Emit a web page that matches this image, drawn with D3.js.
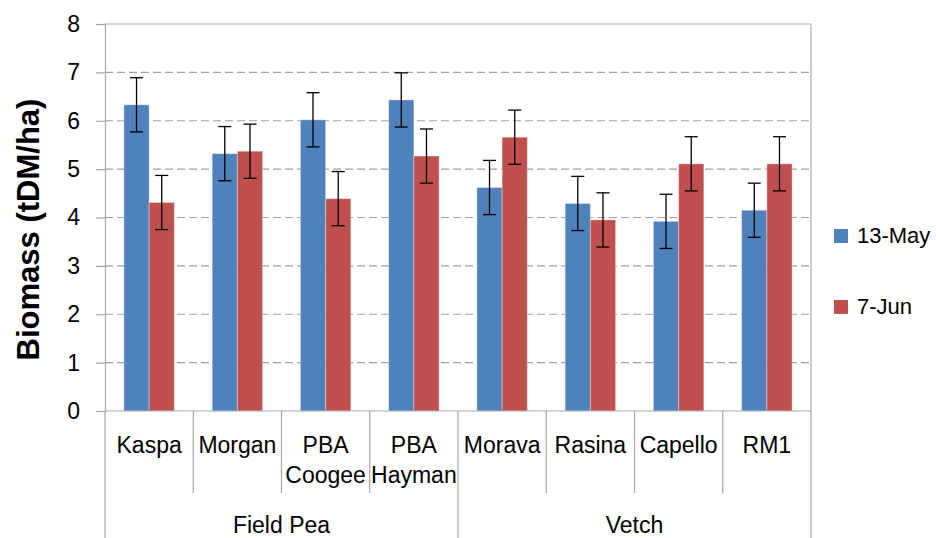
<!DOCTYPE html>
<html>
<head>
<meta charset="utf-8" />
<title>Biomass</title>
<script src="https://cdn.jsdelivr.net/npm/d3@7/dist/d3.min.js"></script>
<style>
  body { margin: 0; background: #fff; }
  text { font-family: "Liberation Sans", Arial, sans-serif; fill: #000; }
</style>
</head>
<body>
<script>
// data
var categories = ["Kaspa", "Morgan", "PBA Coogee", "PBA Hayman", "Morava", "Rasina", "Capello", "RM1"];
var groups = ["Field Pea", "Field Pea", "Field Pea", "Field Pea", "Vetch", "Vetch", "Vetch", "Vetch"];
var seriesNames = ["13-May", "7-Jun"];
var may13 = [6.33, 5.32, 6.02, 6.43, 4.62, 4.29, 3.92, 4.15];
var jun7 = [4.31, 5.37, 4.39, 5.27, 5.66, 3.95, 5.11, 5.11];
var errMay13 = [0.56, 0.56, 0.56, 0.56, 0.56, 0.56, 0.56, 0.56];
var errJun7 = [0.56, 0.56, 0.56, 0.56, 0.56, 0.56, 0.56, 0.56];
var yTicks = [0, 1, 2, 3, 4, 5, 6, 7, 8];

var width = 936, height = 538;
var plot = { left: 105, right: 811, top: 24, bottom: 411 };
var colors = ["#4F81BD", "#C0504D"];

var svg = d3.select("body").append("svg").attr("width", width).attr("height", height);

var x = d3.scaleBand().domain(categories).range([plot.left, plot.right]);
var xSub = d3.scaleBand().domain(seriesNames).range([0, x.bandwidth()]).paddingInner(0).paddingOuter(0.75);
var y = d3.scaleLinear().domain([0, 8]).range([plot.bottom, plot.top]);

// dashed gridlines
svg.append("g").selectAll("line").data(yTicks.filter(function(d){ return d > 0 && d < 8; }))
  .enter().append("line")
  .attr("x1", plot.left).attr("x2", plot.right)
  .attr("y1", function(d){ return y(d); }).attr("y2", function(d){ return y(d); })
  .attr("stroke", "#A0A0A0").attr("stroke-width", 1.2).attr("stroke-dasharray", "8,4");

// plot border (top + right)
svg.append("path")
  .attr("d", "M" + plot.left + "," + plot.top + "H" + plot.right + "V" + plot.bottom)
  .attr("fill", "none").attr("stroke", "#B0B0B0").attr("stroke-width", 1.2);

// bars
var rows = categories.map(function(c, i){
  return { cat: c, vals: [
    { s: seriesNames[0], v: may13[i], e: errMay13[i] },
    { s: seriesNames[1], v: jun7[i], e: errJun7[i] }
  ]};
});

var cat = svg.selectAll(".cat").data(rows).enter().append("g")
  .attr("transform", function(d){ return "translate(" + x(d.cat) + ",0)"; });

cat.selectAll("rect").data(function(d){ return d.vals; }).enter().append("rect")
  .attr("x", function(d){ return xSub(d.s); })
  .attr("width", xSub.bandwidth())
  .attr("y", function(d){ return y(d.v); })
  .attr("height", function(d){ return y(0) - y(d.v); })
  .attr("fill", function(d, i){ return colors[i]; })
  .attr("stroke", "rgba(255,255,255,0.35)").attr("stroke-width", 1);

// error bars
var eb = cat.selectAll(".err").data(function(d){ return d.vals; }).enter().append("g").attr("class", "err")
  .attr("stroke", "#000").attr("stroke-width", 1.3);
eb.append("line")
  .attr("x1", function(d){ return xSub(d.s) + xSub.bandwidth() / 2; })
  .attr("x2", function(d){ return xSub(d.s) + xSub.bandwidth() / 2; })
  .attr("y1", function(d){ return y(d.v + d.e); })
  .attr("y2", function(d){ return y(d.v - d.e); });
[1, -1].forEach(function(sign){
  eb.append("line")
    .attr("x1", function(d){ return xSub(d.s) + xSub.bandwidth() / 2 - 6.5; })
    .attr("x2", function(d){ return xSub(d.s) + xSub.bandwidth() / 2 + 6.5; })
    .attr("y1", function(d){ return y(d.v + sign * d.e); })
    .attr("y2", function(d){ return y(d.v + sign * d.e); });
});

// y axis
var yAxis = d3.axisLeft(y).tickValues(yTicks).tickSize(9).tickPadding(16).tickFormat(d3.format("d"));
var ya = svg.append("g").attr("transform", "translate(" + plot.left + ",0)").call(yAxis);
ya.select(".domain").attr("stroke", "#A6A6A6").attr("stroke-width", 1.2);
ya.selectAll(".tick line").attr("stroke", "#A6A6A6").attr("stroke-width", 1.2);
ya.selectAll(".tick text").attr("font-size", 23).attr("fill", "#000").style("font-family", "'Liberation Sans', Arial, sans-serif");

svg.append("text")
  .attr("transform", "translate(39," + ((plot.top + plot.bottom) / 2 + 12) + ") rotate(-90)")
  .attr("text-anchor", "middle").attr("font-size", 31).attr("font-weight", "bold")
  .text("Biomass (tDM/ha)");

// x axis: baseline, category separators and group separators
svg.append("line").attr("x1", plot.left).attr("x2", plot.right)
  .attr("y1", plot.bottom).attr("y2", plot.bottom)
  .attr("stroke", "#A6A6A6").attr("stroke-width", 1.2);

var bounds = categories.map(function(c, i){ return i; }).concat([categories.length]);
svg.append("g").selectAll("line").data(bounds).enter().append("line")
  .attr("x1", function(i){ return i < categories.length ? x(categories[i]) : plot.right; })
  .attr("x2", function(i){ return i < categories.length ? x(categories[i]) : plot.right; })
  .attr("y1", plot.bottom)
  .attr("y2", function(i){
    var edge = i === 0 || i === categories.length || groups[i] !== groups[i - 1];
    return edge ? height : 493;
  })
  .attr("stroke", "#A6A6A6").attr("stroke-width", 1.2);

var catLabels = svg.append("g").selectAll("text").data(categories).enter().append("text")
  .attr("text-anchor", "middle").attr("font-size", 23);
catLabels.each(function(c){
  var parts = c.split(" ");
  var t = d3.select(this);
  parts.forEach(function(p, k){
    t.append("tspan").attr("x", x(c) + x.bandwidth() / 2).attr("y", 453 + k * 30).text(p);
  });
});

var groupNames = [];
groups.forEach(function(g){ if (groupNames.indexOf(g) < 0) groupNames.push(g); });
svg.append("g").selectAll("text").data(groupNames).enter().append("text")
  .attr("x", function(g){
    var first = categories[groups.indexOf(g)];
    var last = categories[groups.lastIndexOf(g)];
    return (x(first) + x(last) + x.bandwidth()) / 2;
  })
  .attr("y", 533).attr("text-anchor", "middle").attr("font-size", 23)
  .text(function(g){ return g; });

// legend
var legend = svg.append("g").selectAll("g").data(seriesNames).enter().append("g")
  .attr("transform", function(d, i){ return "translate(834," + (229 + i * 71) + ")"; });
legend.append("rect").attr("width", 14).attr("height", 14)
  .attr("fill", function(d, i){ return colors[i]; });
legend.append("text").attr("x", 23).attr("y", 14).attr("font-size", 22)
  .text(function(d){ return d; });
</script>
</body>
</html>
